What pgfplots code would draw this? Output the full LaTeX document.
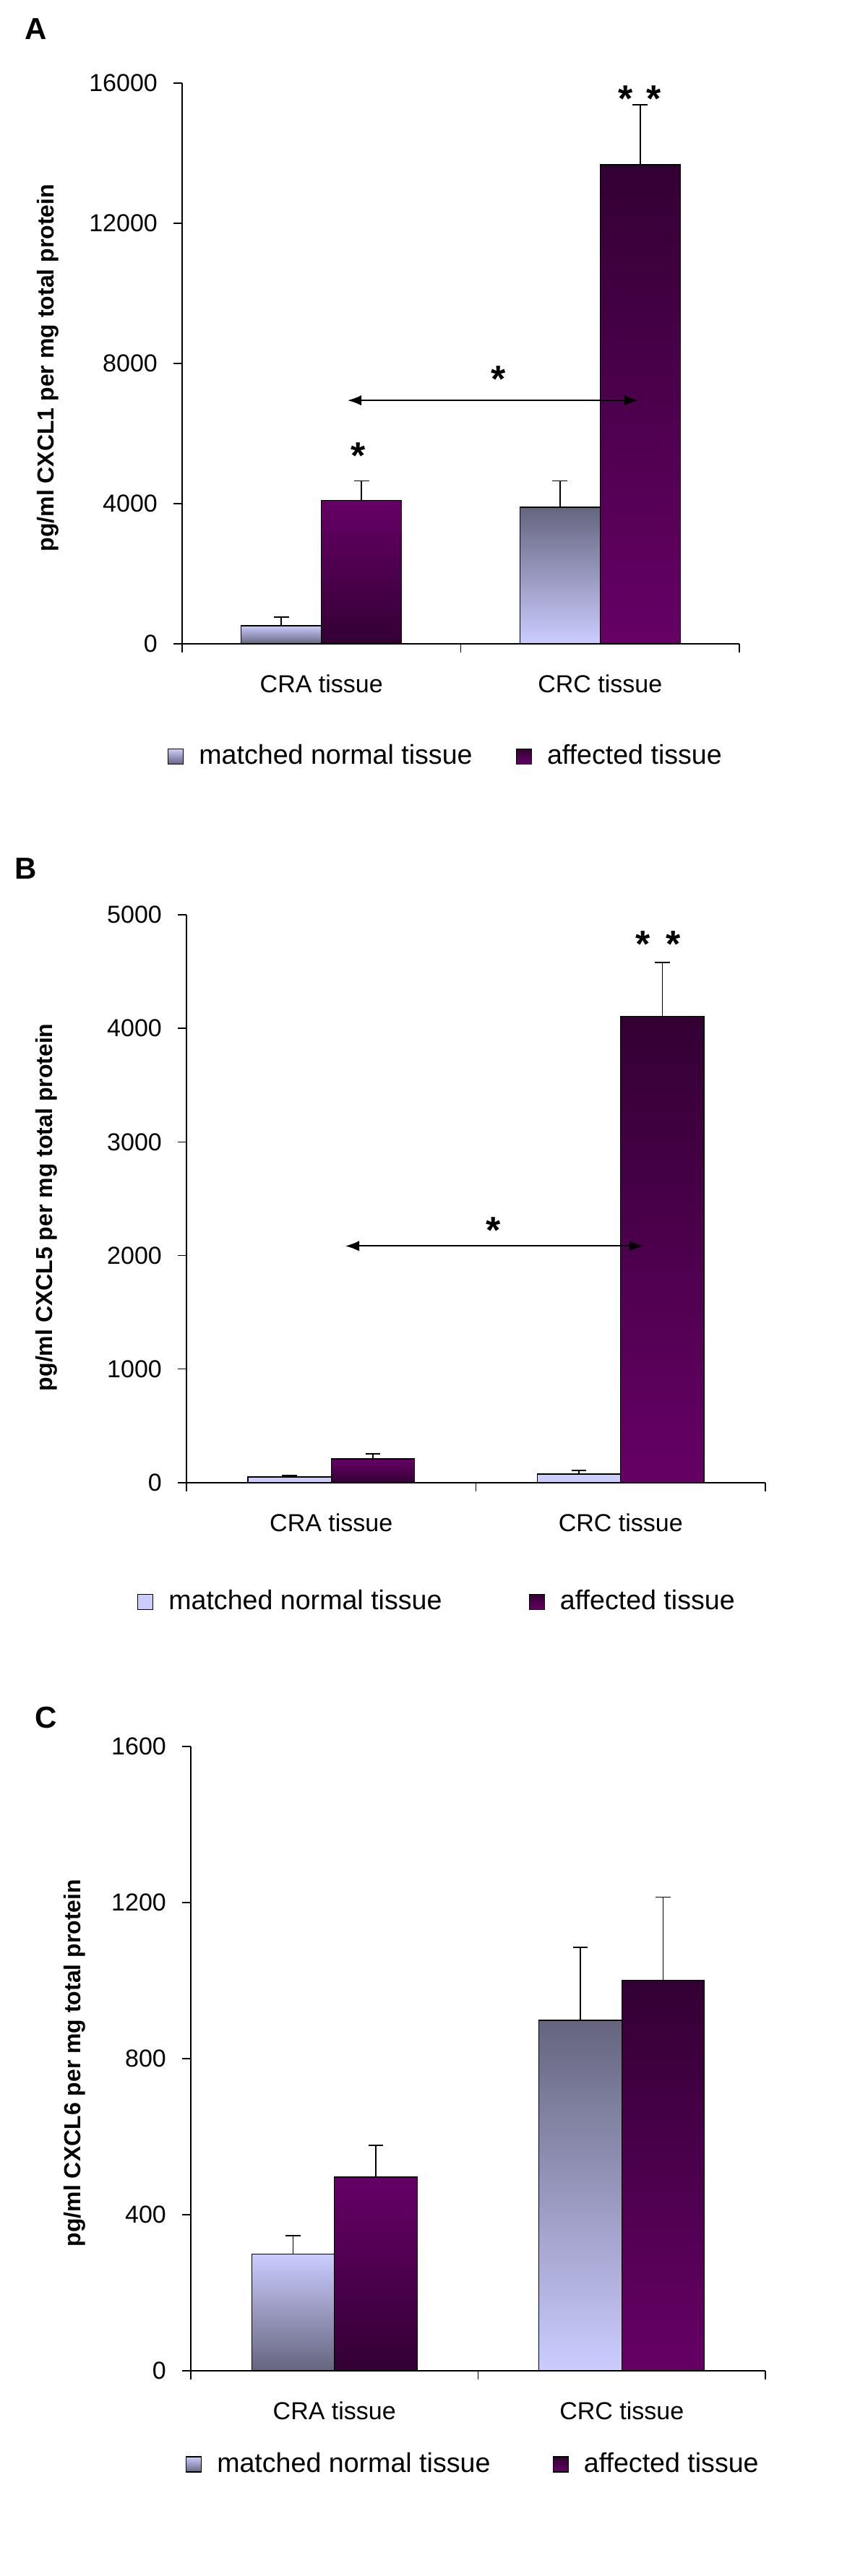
\documentclass[border=0pt]{standalone}
\usepackage{fontspec}
\setmainfont{Liberation Sans}
\usepackage{pgfplots}
\pgfplotsset{compat=1.18}
\usetikzlibrary{arrows.meta}
\definecolor{normLight}{HTML}{CCCCFF}
\definecolor{normDark}{HTML}{65657F}
\definecolor{affLight}{HTML}{660066}
\definecolor{affDark}{HTML}{330033}

\pgfplotsset{
  panel/.style={
    scale only axis, anchor=south west, clip=false,
    axis x line*=bottom, axis y line*=left,
    axis line style={-, line width=0.35pt, black},
    xmin=-0.5, xmax=1.5,
    xtick={-0.5,0.5,1.5}, xticklabels={},
    extra x ticks={0,1}, extra x tick labels={CRA tissue, CRC tissue},
    extra x tick style={tick style={draw=none}, tick label style={yshift=-4.3pt}},
    tick align=outside, major tick length=3pt,
    tick style={black, line width=0.35pt},
    ymin=0, scaled y ticks=false,
    yticklabel style={/pgf/number format/1000 sep={}, /pgf/number format/assume math mode=true, xshift=-2pt},
    tick label style={font=\fontsize{8.5}{10}\selectfont},
    ylabel style={anchor=center, font=\bfseries\fontsize{8}{9.6}\selectfont},
    legend columns=2, legend cell align=left,
    legend style={draw=none, fill=none, inner sep=0pt, anchor=west,
      font=\fontsize{9.4}{11}\selectfont,
      /tikz/every odd column/.append style={column sep=3.25pt}},
  },
  % bars are placed at their own x (centre of each bar), so error bars sit on them
  bar/.style={ybar, bar width=0.288, bar shift=0, draw=black, line width=0.35pt,
    /pgfplots/error bars/y dir=plus, /pgfplots/error bars/y explicit,
    /pgfplots/error bars/error bar style={black, line width=0.45pt},
    /pgfplots/error bars/error mark options={rotate=90, mark size=2.6pt, black, line width=0.45pt}},
  nleg/.style={legend image code/.code={\draw[line width=0.35pt, top color=normLight, bottom color=normDark] (0pt,-2.6pt) rectangle (5.25pt,2.6pt);}},
  nlegflat/.style={legend image code/.code={\draw[line width=0.35pt, fill=normLight] (0pt,-2.6pt) rectangle (5.25pt,2.6pt);}},
  aleg/.style={legend image code/.code={\draw[line width=0.35pt, top color=affDark, bottom color=affLight] (0pt,-2.6pt) rectangle (5.25pt,2.6pt);}},
  arr/.style={mark=none, black, line width=0.45pt, {Latex[length=4.8pt,width=3.6pt]}-{Latex[length=4.8pt,width=3.6pt]}, forget plot},
}
\tikzset{sig/.style={font=\bfseries\fontsize{13}{14}\selectfont, anchor=base, yshift=-6.2pt, inner sep=0pt}}

\begin{document}
\begin{tikzpicture}
\path[use as bounding box] (0,0) rectangle (300pt,891.25pt);

\node[font=\bfseries\fontsize{10.5}{12}\selectfont] at (12.5pt,881.25pt) {A};
\node[font=\bfseries\fontsize{10.5}{12}\selectfont] at (9pt,590.75pt) {B};
\node[font=\bfseries\fontsize{10.5}{12}\selectfont] at (16pt,297pt) {C};

% A: CXCL1
\begin{axis}[panel, at={(63pt,668.5pt)}, width=192.75pt, height=194pt,
  ymax=16000, ytick={0,4000,8000,12000,16000},
  ylabel={pg/ml CXCL1 per mg total protein},
  ylabel style={at={(axis description cs:-0.241,0.492)}},
  legend style={at={(axis description cs:-0.027,-0.201)},
    /tikz/every even column/.append style={column sep=13pt}}]
\addplot[bar, top color=normLight, bottom color=normDark, nleg] coordinates {(-0.144,515) +- (0,248)};
\addlegendentry{matched normal tissue}
\addplot[bar, top color=normDark, bottom color=normLight, forget plot] coordinates {(0.856,3899) +- (0,751)};
\addplot[bar, top color=affLight, bottom color=affDark, forget plot] coordinates {(0.144,4087) +- (0,563)};
\addplot[bar, top color=affDark, bottom color=affLight, aleg] coordinates {(1.144,13670) +- (0,1711)};
\addlegendentry{affected tissue}
\addplot[arr] coordinates {(0.094,6946) (1.137,6946)};
\node[sig] at (axis cs:0.133,5516) {*};
\node[sig] at (axis cs:0.634,7697) {*};
\node[sig] at (axis cs:1.093,15692) {*};
\node[sig] at (axis cs:1.194,15692) {*};
\end{axis}

% B: CXCL5
\begin{axis}[panel, at={(64.5pt,378.25pt)}, width=200.25pt, height=196.5pt,
  ymax=5000, ytick={0,1000,2000,3000,4000,5000},
  ylabel={pg/ml CXCL5 per mg total protein},
  ylabel style={at={(axis description cs:-0.2416,0.485)}},
  legend style={at={(axis description cs:-0.086,-0.21)},
    /tikz/every even column/.append style={column sep=28pt}}]
\addplot[bar, fill=normLight, nlegflat] coordinates {(-0.144,51) +- (0,13)};
\addlegendentry{matched normal tissue}
\addplot[bar, fill=normLight, forget plot] coordinates {(0.856,76) +- (0,32)};
\addplot[bar, top color=affLight, bottom color=affDark, forget plot] coordinates {(0.144,210) +- (0,45)};
\addplot[bar, top color=affDark, bottom color=affLight, aleg] coordinates {(1.144,4107) +- (0,472)};
\addlegendentry{affected tissue}
\addplot[arr] coordinates {(0.049,2084) (1.078,2084)};
\node[sig] at (axis cs:0.561,2266) {*};
\node[sig] at (axis cs:1.078,4785) {*};
\node[sig] at (axis cs:1.183,4785) {*};
\end{axis}

% C: CXCL6
\begin{axis}[panel, at={(66pt,71pt)}, width=198.75pt, height=216pt,
  ymax=1600, ytick={0,400,800,1200,1600},
  ylabel={pg/ml CXCL6 per mg total protein},
  ylabel style={at={(axis description cs:-0.2025,0.493)}},
  legend style={at={(axis description cs:-0.010,-0.150)},
    /tikz/every even column/.append style={column sep=19.5pt}}]
\addplot[bar, top color=normLight, bottom color=normDark, nleg] coordinates {(-0.144,299) +- (0,47)};
\addlegendentry{matched normal tissue}
\addplot[bar, top color=normDark, bottom color=normLight, forget plot] coordinates {(0.856,898) +- (0,187)};
\addplot[bar, top color=affLight, bottom color=affDark, forget plot] coordinates {(0.144,496) +- (0,82)};
\addplot[bar, top color=affDark, bottom color=affLight, aleg] coordinates {(1.144,1001) +- (0,213)};
\addlegendentry{affected tissue}
\end{axis}
\end{tikzpicture}
\end{document}
